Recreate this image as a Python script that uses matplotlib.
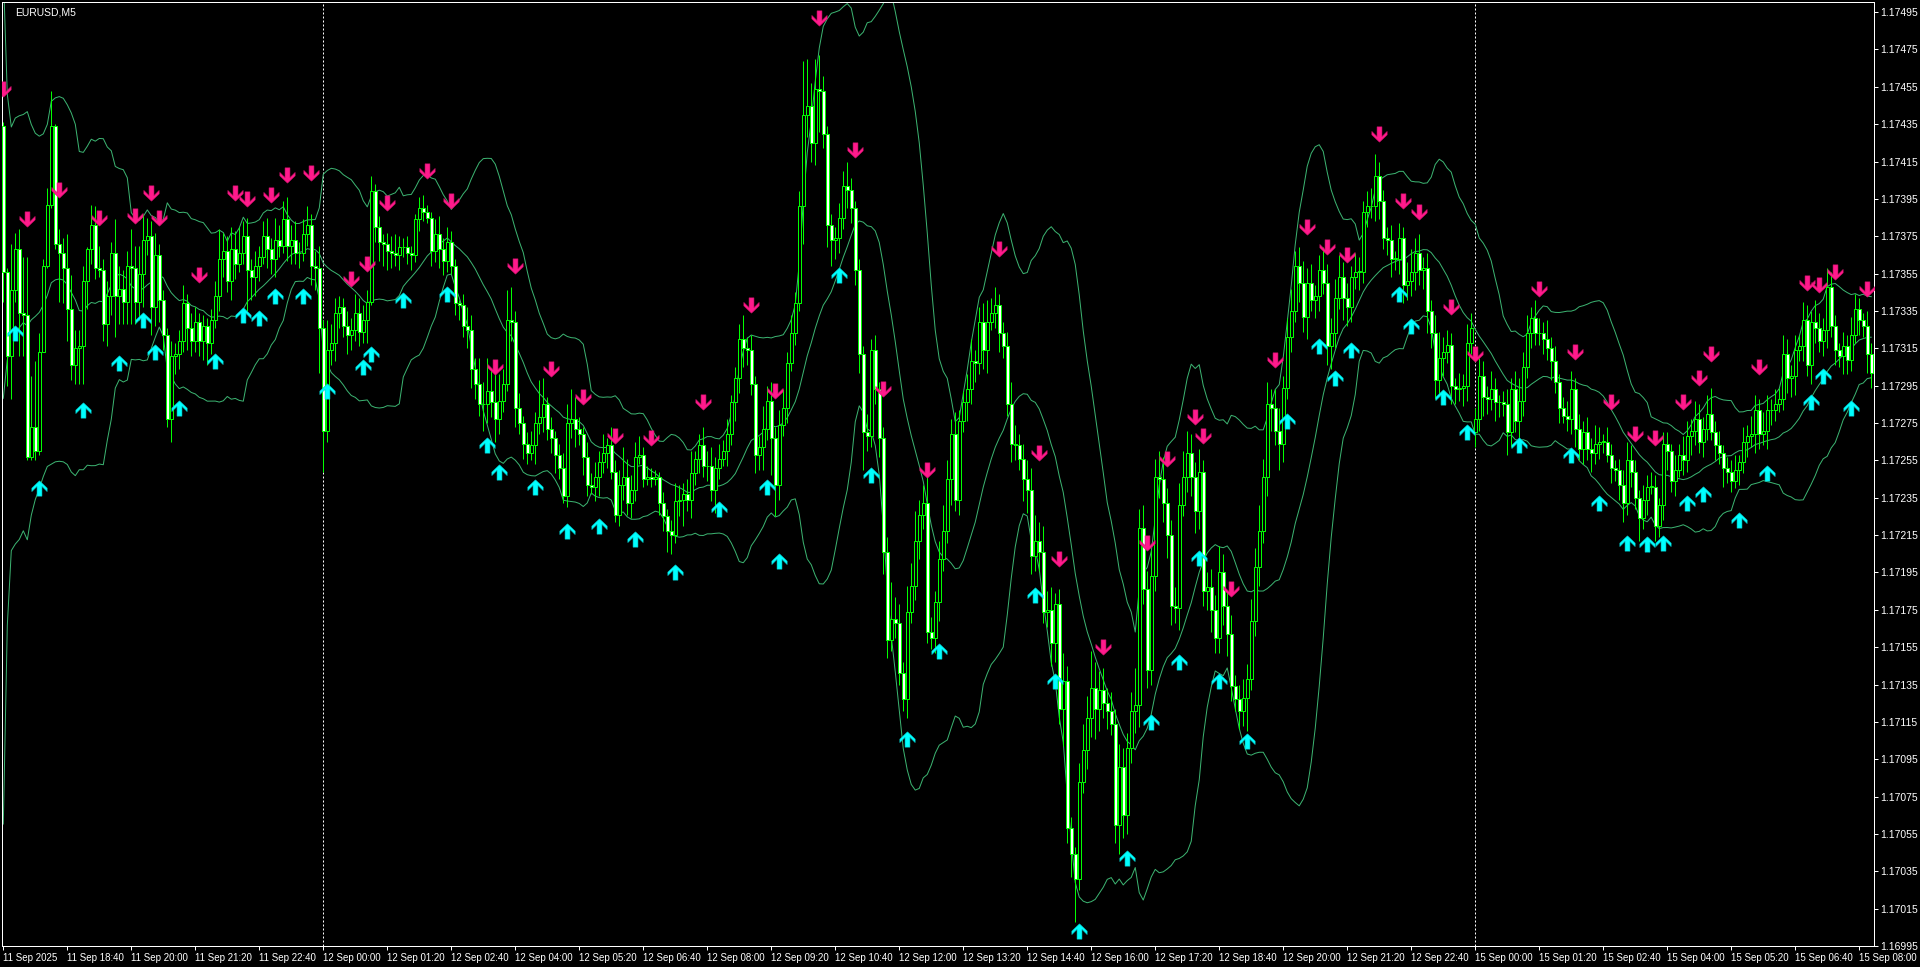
import numpy as np
import matplotlib
matplotlib.use('Agg')
import matplotlib.pyplot as plt
from matplotlib.path import Path

# prices are kept in points (0.00001) above 1.17000
BASE = 1.17
POINT = 0.00001

# closes before the first visible bar (only feed the bands)
pre_close_pts = [-100, 120, 285, 297, 280, 290, 210, 223, 270, 282,
                 288, 298, 340, 356, 370, 385, 390, 395, 430]

# EURUSD M5 closes, 11 Sep 17:20 .. 15 Sep 08:15
close_pts = [
    356, 311, 346, 368, 334, 333, 257, 273, 260, 313, 359, 392, 434, 371, 366, 358,
    336, 306, 315, 316, 351, 368, 381, 358, 357, 328, 343, 366, 343, 347, 340, 359,
    358, 340, 355, 373, 375, 337, 365, 341, 322, 277, 311, 312, 319, 339, 326, 319,
    329, 319, 327, 318, 330, 343, 363, 367, 351, 368, 360, 366, 375, 357, 353, 359,
    364, 375, 368, 363, 373, 370, 384, 370, 373, 366, 366, 376, 381, 359, 358, 326,
    271, 314, 318, 334, 337, 327, 322, 325, 334, 324, 330, 340, 399, 380, 372, 371,
    367, 366, 365, 369, 369, 366, 365, 384, 390, 388, 385, 367, 376, 368, 362, 372,
    359, 339, 338, 327, 325, 304, 296, 285, 285, 292, 286, 277, 287, 296, 330, 329,
    283, 275, 264, 259, 263, 275, 278, 285, 272, 267, 258, 251, 236, 275, 277, 272,
    269, 257, 242, 241, 246, 254, 259, 263, 249, 226, 242, 246, 232, 239, 257, 258,
    245, 246, 245, 246, 232, 225, 217, 215, 233, 234, 237, 234, 248, 256, 263, 252,
    252, 239, 251, 256, 260, 269, 286, 299, 320, 315, 314, 296, 258, 262, 272, 287,
    267, 242, 274, 283, 307, 323, 339, 391, 440, 445, 425, 454, 453, 430, 381, 373,
    374, 385, 402, 400, 390, 357, 312, 270, 268, 314, 293, 267, 206, 159, 170, 168,
    141, 127, 174, 188, 212, 226, 232, 163, 160, 179, 202, 217, 245, 269, 234, 276,
    286, 293, 308, 307, 329, 314, 329, 334, 338, 323, 316, 285, 264, 263, 256, 245,
    239, 204, 212, 206, 174, 175, 157, 178, 122, 137, 58, 44, 31, 83, 100, 117,
    133, 122, 132, 125, 121, 114, 60, 91, 65, 101, 121, 124, 219, 186, 143, 193,
    246, 245, 232, 215, 177, 176, 231, 246, 259, 246, 228, 249, 185, 187, 175, 160,
    195, 177, 162, 134, 127, 121, 128, 138, 169, 198, 217, 246, 285, 283, 271, 264,
    294, 321, 335, 359, 350, 332, 350, 341, 343, 357, 350, 316, 323, 342, 353, 342,
    337, 353, 356, 356, 388, 391, 391, 407, 394, 374, 373, 363, 363, 374, 349, 351,
    356, 366, 357, 358, 335, 323, 298, 310, 313, 317, 295, 293, 294, 295, 318, 326,
    277, 300, 289, 288, 293, 286, 286, 285, 270, 293, 276, 287, 305, 323, 331, 323,
    323, 320, 315, 308, 297, 283, 279, 277, 293, 272, 261, 270, 261, 259, 264, 265,
    265, 258, 251, 250, 242, 232, 255, 249, 235, 224, 234, 241, 241, 220, 231, 264,
    260, 244, 250, 258, 255, 268, 271, 277, 265, 272, 280, 270, 263, 259, 251, 249,
    244, 250, 254, 265, 268, 269, 282, 269, 271, 282, 282, 285, 288, 312, 299, 300,
    314, 316, 330, 306, 329, 326, 319, 325, 348, 327, 314, 311, 316, 309, 322, 336,
    330, 327, 312, 302,
]

# bars whose open is not the previous close (session start / weekend gap)
gap_open_pts = {0: 434, 368: 270}

# upper / lower shadow beyond the body, points
hi_ext = [
    2, 2, 25, 9, 11, 30, 31, 27, 35, 10, 4, 9, 19, 1, 8, 8,
    18, 18, 10, 9, 8, 1, 11, 10, 12, 6, 8, 6, 18, 12, 10, 8,
    20, 12, 15, 14, 10, 8, 12, 6, 5, 4, 8, 6, 6, 10, 5, 8,
    8, 5, 6, 4, 6, 8, 16, 10, 8, 12, 10, 14, 8, 10, 6, 8,
    6, 8, 10, 6, 12, 8, 10, 12, 8, 10, 6, 8, 10, 6, 8, 12,
    4, 16, 10, 8, 6, 5, 8, 6, 10, 8, 8, 6, 8, 4, 6, 4,
    6, 8, 10, 6, 5, 6, 4, 3, 6, 7, 4, 3, 8, 10, 6, 8,
    6, 4, 2, 6, 10, 8, 6, 14, 12, 18, 12, 20, 14, 8, 16, 18,
    6, 8, 4, 6, 8, 6, 20, 14, 4, 6, 4, 6, 8, 10, 16, 12,
    6, 4, 8, 6, 8, 6, 10, 4, 10, 6, 8, 16, 10, 8, 8, 10,
    4, 6, 5, 4, 3, 6, 4, 6, 10, 8, 6, 8, 12, 4, 6, 10,
    8, 10, 6, 8, 6, 8, 4, 6, 8, 13, 6, 8, 4, 6, 12, 8,
    10, 6, 8, 10, 6, 10, 6, 8, 29, 25, 12, 16, 18, 8, 4, 6,
    6, 8, 8, 13, 6, 4, 6, 4, 10, 6, 8, 4, 6, 8, 20, 12,
    10, 6, 14, 12, 16, 8, 10, 15, 8, 6, 10, 14, 10, 8, 12, 6,
    6, 8, 12, 6, 8, 10, 12, 8, 10, 6, 6, 8, 12, 10, 6, 8,
    10, 12, 14, 10, 14, 10, 12, 6, 8, 15, 8, 6, 4, 10, 14, 12,
    20, 14, 10, 12, 8, 10, 8, 12, 10, 8, 10, 20, 10, 12, 10, 14,
    10, 14, 12, 8, 8, 10, 12, 14, 12, 10, 8, 12, 6, 8, 10, 8,
    14, 10, 8, 10, 6, 8, 10, 8, 12, 10, 14, 10, 12, 8, 10, 12,
    6, 10, 12, 8, 10, 12, 8, 10, 6, 8, 12, 10, 8, 10, 12, 8,
    8, 6, 10, 8, 6, 8, 10, 12, 8, 6, 6, 8, 4, 8, 6, 10,
    12, 8, 10, 6, 8, 6, 10, 14, 8, 8, 6, 4, 8, 6, 10, 8,
    6, 10, 8, 6, 10, 6, 4, 6, 8, 6, 10, 12, 8, 10, 6, 10,
    8, 6, 10, 6, 8, 4, 6, 8, 10, 6, 8, 6, 8, 6, 10, 8,
    4, 8, 6, 4, 6, 8, 10, 8, 6, 4, 8, 6, 8, 6, 4, 6,
    6, 4, 8, 6, 10, 8, 6, 10, 8, 6, 10, 14, 6, 8, 4, 6,
    6, 8, 4, 8, 6, 10, 8, 6, 10, 8, 6, 8, 6, 10, 8, 6,
    8, 6, 10, 8, 6, 12, 8, 6, 10, 8, 6, 4, 8, 6, 10, 8,
    6, 4, 8, 6,
]
lo_ext = [
    16, 16, 23, 6, 23, 22, 2, 2, 5, 2, 0, 1, 2, 3, 26, 19,
    17, 8, 10, 19, 20, 15, 8, 6, 4, 9, 12, 10, 22, 15, 12, 12,
    30, 12, 10, 18, 8, 15, 10, 12, 8, 4, 12, 10, 8, 6, 12, 8,
    6, 8, 10, 12, 6, 4, 8, 10, 6, 10, 8, 4, 6, 22, 12, 10,
    8, 4, 10, 8, 10, 6, 4, 8, 10, 6, 8, 4, 6, 10, 12, 24,
    22, 6, 8, 10, 8, 6, 10, 8, 6, 8, 6, 12, 2, 8, 10, 12,
    10, 8, 6, 8, 5, 6, 8, 4, 6, 5, 3, 8, 6, 10, 8, 6,
    4, 6, 8, 6, 10, 10, 8, 6, 14, 10, 8, 12, 8, 6, 4, 10,
    10, 6, 8, 6, 4, 10, 6, 8, 6, 8, 10, 6, 4, 6, 8, 10,
    6, 10, 6, 4, 8, 10, 6, 8, 4, 4, 6, 8, 6, 8, 6, 4,
    4, 3, 4, 3, 6, 8, 11, 10, 4, 8, 14, 6, 10, 6, 8, 6,
    8, 6, 12, 6, 4, 8, 6, 10, 8, 10, 8, 6, 10, 8, 12, 6,
    20, 17, 8, 6, 8, 4, 6, 4, 20, 12, 10, 12, 22, 8, 12, 14,
    10, 8, 6, 10, 8, 8, 10, 20, 8, 6, 8, 10, 12, 10, 6, 8,
    6, 6, 10, 6, 8, 10, 8, 6, 6, 8, 10, 6, 6, 14, 6, 8,
    6, 10, 8, 10, 6, 10, 12, 4, 8, 10, 6, 6, 10, 8, 6, 12,
    12, 10, 8, 10, 6, 8, 12, 10, 8, 20, 8, 12, 23, 6, 6, 10,
    10, 16, 12, 8, 10, 6, 10, 16, 12, 10, 8, 12, 12, 8, 10, 8,
    8, 10, 10, 12, 10, 8, 12, 6, 8, 10, 12, 10, 8, 10, 12, 8,
    8, 10, 12, 8, 6, 10, 8, 18, 6, 8, 10, 6, 10, 12, 8, 14,
    10, 6, 8, 6, 10, 8, 12, 6, 10, 8, 6, 10, 12, 8, 6, 12,
    10, 8, 6, 10, 6, 8, 6, 8, 10, 6, 8, 10, 6, 8, 10, 8,
    8, 10, 8, 10, 12, 8, 10, 8, 10, 6, 10, 8, 6, 10, 8, 6,
    8, 6, 10, 8, 6, 10, 8, 6, 12, 8, 6, 10, 8, 6, 8, 6,
    6, 8, 6, 10, 6, 8, 4, 6, 8, 10, 6, 8, 6, 10, 6, 8,
    6, 4, 8, 6, 8, 10, 6, 8, 6, 12, 6, 8, 4, 8, 6, 8,
    10, 6, 8, 4, 8, 6, 10, 8, 6, 8, 6, 4, 8, 6, 10, 6,
    6, 4, 8, 6, 8, 6, 10, 8, 6, 10, 8, 6, 4, 6, 8, 10,
    10, 6, 8, 6, 10, 8, 6, 8, 10, 6, 8, 6, 10, 8, 6, 4,
    8, 6, 10, 8,
]

# signal arrows: bar index and price (points) of the arrow centre
sell_bars = [0, 6, 14, 24, 33, 37, 39, 49, 58, 61, 67, 71, 77, 87, 91, 96, 106, 112,
             123, 128, 137, 145, 153, 162, 175, 187, 193, 204, 213, 220, 231, 249,
             259, 264, 275, 286, 291, 298, 300, 307, 318, 326, 331, 336, 344, 350,
             354, 362, 368, 384, 393, 402, 408, 413, 420, 424, 427, 439, 451, 454,
             458, 466]
sell_pts = [454, 384, 400, 385, 386, 398, 385, 354, 398, 395, 397, 408, 409, 352, 360,
            393, 410, 394, 305, 359, 304, 289, 268, 267, 286, 338, 292, 492, 421, 293,
            250, 368, 259, 202, 155, 211, 256, 278, 268, 186, 309, 380, 369, 365, 430,
            394, 388, 337, 312, 347, 313, 286, 269, 267, 286, 299, 312, 305, 350, 349,
            356, 347]
buy_bars = [3, 9, 20, 29, 35, 38, 44, 53, 60, 64, 68, 75, 81, 90, 92, 100, 111, 121,
            124, 133, 141, 149, 158, 168, 179, 191, 194, 209, 217, 226, 234, 258, 263,
            269, 281, 287, 294, 299, 304, 311, 321, 329, 333, 337, 349, 352, 360, 366,
            379, 392, 399, 406, 411, 415, 421, 425, 434, 441, 452, 455, 462]
buy_pts = [323, 240, 282, 307, 330, 313, 283, 308, 333, 331, 343, 343, 292, 305, 312,
           341, 344, 263, 249, 241, 217, 220, 213, 195, 229, 241, 201, 354, 247, 106,
           153, 183, 137, 3, 42, 115, 147, 203, 137, 105, 276, 316, 299, 314, 344, 327,
           289, 270, 263, 258, 232, 211, 210, 211, 232, 237, 223, 248, 286, 300, 283]

day_start_bars = [80, 368]

time_labels = ['11 Sep 2025', '11 Sep 18:40', '11 Sep 20:00', '11 Sep 21:20', '11 Sep 22:40',
               '12 Sep 00:00', '12 Sep 01:20', '12 Sep 02:40', '12 Sep 04:00', '12 Sep 05:20',
               '12 Sep 06:40', '12 Sep 08:00', '12 Sep 09:20', '12 Sep 10:40', '12 Sep 12:00',
               '12 Sep 13:20', '12 Sep 14:40', '12 Sep 16:00', '12 Sep 17:20', '12 Sep 18:40',
               '12 Sep 20:00', '12 Sep 21:20', '12 Sep 22:40', '15 Sep 00:00', '15 Sep 01:20',
               '15 Sep 02:40', '15 Sep 04:00', '15 Sep 05:20', '15 Sep 06:40', '15 Sep 08:00']
time_label_bars = list(range(0, 465, 16))

assert len(close_pts) == len(hi_ext) == len(lo_ext) == 468
assert len(sell_bars) == len(sell_pts) and len(buy_bars) == len(buy_pts)

# ---- build OHLC ----
closes = BASE + np.array(close_pts) * POINT
opens = np.r_[BASE + pre_close_pts[-1] * POINT, closes[:-1]]
for k, v in gap_open_pts.items():
    opens[k] = BASE + v * POINT
body_top = np.maximum(opens, closes)
body_bot = np.minimum(opens, closes)
highs = body_top + np.array(hi_ext) * POINT
lows = body_bot - np.array(lo_ext) * POINT
x = np.arange(len(closes))

# Bollinger bands (20, 2)
allc = np.r_[BASE + np.array(pre_close_pts) * POINT, closes]
win = np.lib.stride_tricks.sliding_window_view(allc, 20)
mid = win.mean(axis=1)
sd = win.std(axis=1)
upper = mid + 2 * sd
lower = mid - 2 * sd

# ---- figure ----
W, H = 1920, 967
fig = plt.figure(figsize=(W / 100, H / 100), dpi=100, facecolor='black')
ax = fig.add_axes([2 / W, 21 / H, 1872 / W, 944 / H], facecolor='black')

lime = '#00ff00'
px = 0.72  # one pixel in points
lab_font = 'Liberation Sans'

ax.plot(x, upper, color='#3cb371', lw=px, zorder=1)
ax.plot(x, mid, color='#3cb371', lw=px, zorder=1)
ax.plot(x, lower, color='#3cb371', lw=px, zorder=1)

ax.vlines(x, lows, highs, color=lime, lw=px, zorder=2)
bear = closes < opens
ax.bar(x, np.maximum(body_top - body_bot, 0.2 * POINT), bottom=body_bot, width=0.72,
       color=np.where(bear, 'white', 'black'), edgecolor=lime, linewidth=px, zorder=3)

for b in day_start_bars:
    ax.axvline(b, color='white', lw=px, ls=(0, (2, 2)), zorder=0)

up_v = [(0, 1), (1, 0.05), (1, -0.4), (0.32, 0.28), (0.32, -1),
        (-0.32, -1), (-0.32, 0.28), (-1, -0.4), (-1, 0.05), (0, 1)]
up_arrow = Path(up_v, closed=True)
dn_arrow = Path([(a, -b) for a, b in up_v], closed=True)

ax.plot(buy_bars, BASE + np.array(buy_pts) * POINT, ls='none', marker=up_arrow,
        ms=11, color='#00ffff', mec='#00c8c8', mew=0.4, zorder=4)
ax.plot(sell_bars, BASE + np.array(sell_pts) * POINT, ls='none', marker=dn_arrow,
        ms=11, color='#ff1a8c', mec='#d0106a', mew=0.4, zorder=4)

ax.set_xlim(-0.325, 467.7)
ax.set_ylim(1.1699907, 1.1750042)

yt = [1.16995 + 0.0002 * k for k in range(26)]
ax.yaxis.tick_right()
ax.set_yticks(yt)
ax.set_yticklabels([f'{v:.5f}' for v in yt], fontfamily=lab_font)
ax.set_xticks(time_label_bars)
ax.set_xticklabels(time_labels, ha='left', fontfamily=lab_font)
ax.tick_params(axis='both', colors='white', length=3, width=px, pad=1.5, labelsize=7.5)
ax.tick_params(axis='x', pad=2, labelsize=7)
for s in ax.spines.values():
    s.set_color('white')
    s.set_linewidth(px)

ax.text(0.007, 0.994, 'EURUSD,M5', transform=ax.transAxes, color='white',
        fontsize=7.5, fontfamily=lab_font, va='top', ha='left')

fig.savefig('out.png', dpi=100, facecolor='black')
